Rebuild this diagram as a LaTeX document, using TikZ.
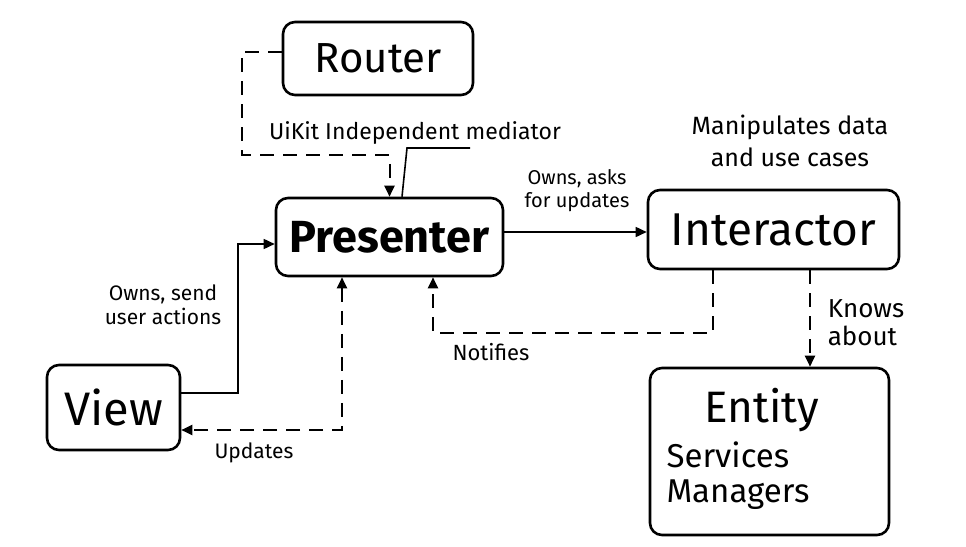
\documentclass[tikz,border=0pt]{standalone}
\usepackage{fontspec}
\setmainfont{Fira Sans}
\usetikzlibrary{arrows.meta}
\tikzset{
  x=1pt, y=1pt,
  box/.style={draw, line width=2.6pt, rounded corners=12pt, inner sep=0pt},
  conn/.style={line width=1.6pt, -{Triangle[length=11pt,width=10pt]}},
  dline/.style={line width=2pt, dash pattern=on 14pt off 9pt, -{Triangle[length=11pt,width=10pt]}},
  big/.style={font=\fontsize{42}{46}\selectfont},
  lbl/.style={font=\fontsize{21}{24}\selectfont, inner sep=0pt},
}
\begin{document}
\begin{tikzpicture}
\useasboundingbox (0,0) rectangle (966,-546);
% boxes
\node[box, big, minimum width=190pt, minimum height=73pt] (router) at (378,-58.5) {Router};
\node[box, big, font=\fontsize{45}{48}\bfseries, minimum width=227pt, minimum height=78pt] (presenter) at (389.5,-237) {Presenter};
\node[box, big, font=\fontsize{46}{48}\selectfont, minimum width=251pt, minimum height=79pt] (interactor) at (773.5,-229.5) {Interactor};
\node[box, big, font=\fontsize{47}{50}\selectfont, minimum width=133pt, minimum height=85pt] (view) at (113.5,-407.5) {View};
\node[box, minimum width=239pt, minimum height=167pt] (entity) at (769.5,-451.5) {};
\node[big, font=\fontsize{44}{46}\selectfont] (entt) at (762,-410) {Entity};
\node[font=\fontsize{33}{36}\selectfont, anchor=west] (serv) at (663,-455) {Services};
\node[font=\fontsize{33}{36}\selectfont, anchor=west] (mgr) at (663,-495) {Managers};
% labels
\node[lbl, font=\fontsize{23}{26}\selectfont] (uikit) at (415,-133) {UiKit Independent mediator};
\node[lbl, align=center, font=\fontsize{20}{23}\selectfont] (owns1) at (577,-191) {Owns, asks\\for updates};
\node[lbl, align=center, font=\fontsize{25}{32}\selectfont] (manip) at (790,-141) {Manipulates data\\and use cases};
\node[lbl, align=left, font=\fontsize{26}{28}\selectfont] (knows) at (866,-323) {Knows\\about};
\node[lbl, font=\fontsize{22}{24}\selectfont] (notif) at (491,-352) {Notifies};
\node[lbl, align=center] (owns2) at (163,-305) {Owns, send\\user actions};
\node[lbl] (upd) at (254,-453) {Updates};
% connectors
\draw[dline] ([yshift=6.5pt]router.west) -| (242,-155) -| (presenter.north);
\draw[line width=1.6pt] ([xshift=12.5pt]presenter.north) -- (407,-148) -- (470,-148);
\draw[conn] ([yshift=5pt]presenter.east) -- ([yshift=5pt]presenter.east -| interactor.west);
\draw[dline] ([xshift=-60.5pt]interactor.south) |- (433,-333) -- ([xshift=43.5pt]presenter.south);
\draw[dline] ([xshift=36.5pt]interactor.south) -- ([xshift=40.5pt]entity.north);
\draw[conn] ([yshift=14.5pt]view.east) -| (238,-244) -- ([yshift=-7pt]presenter.west);
\draw[dline, {Triangle[length=11pt,width=10pt]}-{Triangle[length=11pt,width=10pt]}] ([xshift=-47.5pt]presenter.south) |- ([yshift=-22.5pt]view.east);
\end{tikzpicture}
\end{document}
